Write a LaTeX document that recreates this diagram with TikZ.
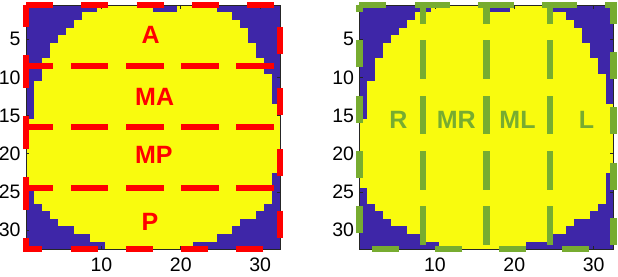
\documentclass[tikz,border=0pt]{standalone}
\usepackage{fontspec}
\setmainfont{Liberation Sans}
\usetikzlibrary{positioning}

\definecolor{maskblue}{RGB}{62,38,168}
\definecolor{maskyellow}{RGB}{249,251,14}
\definecolor{axisgray}{RGB}{38,38,38}
\definecolor{lobegreen}{RGB}{119,172,48}

\tikzset{
  region/.style={line width=6.5pt, dash pattern=on 27pt off 28.3pt},
  tag/.style={font=\fontsize{25}{26}\selectfont\bfseries},
  ticklab/.style={font=\fontsize{19.5}{20}\selectfont, inner sep=0pt},
  tickmark/.style={axisgray, line width=0.8pt}
}

% 32x32 mask, one yellow run per row, then box, ticks and tick labels
\newcommand{\headmask}[1]{%
  \fill[maskblue] (0.5,0.5) rectangle (32.5,32.5);
  \foreach \row/\lo/\hi in {1/10/16,1/20/24,2/8/26,3/7/27,4/6/28,5/5/28,6/4/29,7/4/29,
      8/3/30,9/3/30,10/3/31,11/2/31,12/2/31,13/2/31,14/2/32,15/2/32,16/1/32,17/1/32,
      18/1/32,19/1/32,20/1/32,21/1/32,22/1/32,23/1/31,24/1/31,25/2/31,26/2/31,
      27/3/30,28/4/29,29/5/27,30/7/26,31/9/24,32/11/21}
    \fill[maskyellow] (\lo-0.5,\row-0.52) rectangle (\hi+0.5,\row+0.52);
  \draw[tickmark] (0.5,0.5) rectangle (32.5,32.5);
  \foreach \tx in {10,20,30} {
    \draw[tickmark] (\tx,32.5) -- ++(0,-0.46);
    \draw[tickmark] (\tx,0.5) -- ++(0,0.46);
    \node[ticklab, anchor=base] (#1x\tx) at (\tx,35.45) {\tx};
  }
  \foreach \ty in {5,10,...,30} {
    \draw[tickmark] (0.5,\ty) -- ++(0.44,0);
    \draw[tickmark] (32.5,\ty) -- ++(-0.44,0);
    \node[ticklab, anchor=east] (#1y\ty) at (-0.17,\ty) {\ty};
  }
}

\begin{document}
\begin{tikzpicture}[x=7.94pt,y=-7.63pt]
  \useasboundingbox (-2.775,-0.155) rectangle (75.06,36.02);

  % front to back
  \headmask{l}
  \foreach \ya/\yb in {0.5/8.5,8.5/16.5,16.5/24.5,24.5/32.5}
    \draw[region, red] (0.5,\ya) -- (32.5,\ya) -- (32.5,\yb) -- (0.5,\yb) -- cycle;
  \node[tag, red] (A) at (16.2,4.43) {A};
  \node[tag, red] (MA) at (16.7,12.56) {MA};
  \node[tag, red] (MP) at (16.6,20.2) {MP};
  \node[tag, red] (P) at (16.1,28.9) {P};

  % left to right
  \begin{scope}[shift={(42,0)}]
    \headmask{r}
    \foreach \xa/\xb in {0.5/8.5,8.5/16.5,16.5/24.5,24.5/32.5}
      \draw[region, lobegreen] (\xa,0.5) -- (\xb,0.5) -- (\xb,32.5) -- (\xa,32.5) -- cycle;
    \node[tag, lobegreen] (R) at (5.39,15.6) {R};
    \node[tag, lobegreen] (MR) at (12.7,15.6) {MR};
    \node[tag, lobegreen] (ML) at (20.4,15.6) {ML};
    \node[tag, lobegreen] (L) at (29.1,15.6) {L};
  \end{scope}
\end{tikzpicture}
\end{document}
